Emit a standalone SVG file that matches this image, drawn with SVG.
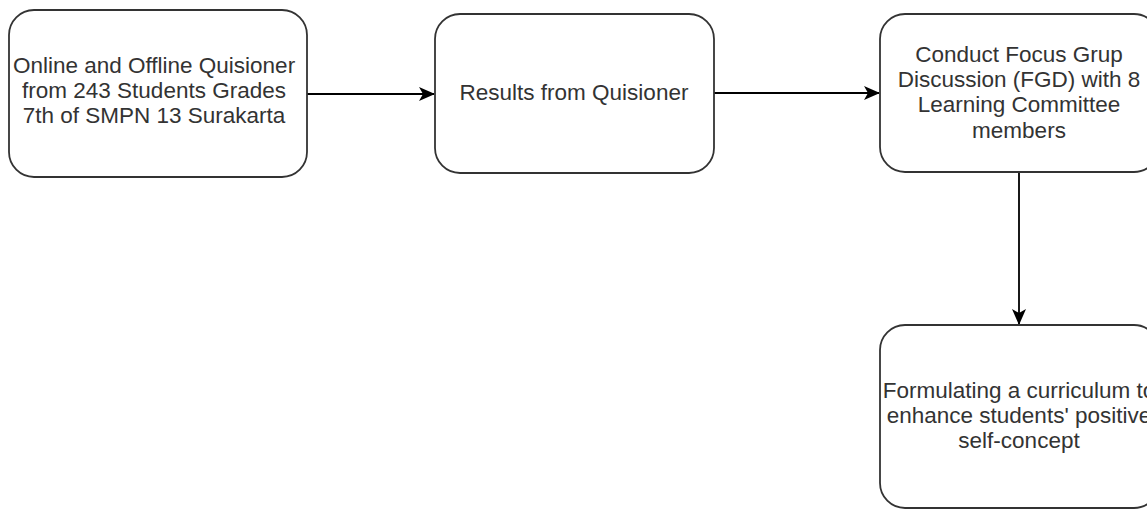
<svg xmlns="http://www.w3.org/2000/svg" width="1147" height="510" viewBox="0 0 1147 510">
  <style>
    .box { fill: #ffffff; stroke: #333333; stroke-width: 1.8; }
    .lbl { font-family: "Liberation Sans", Arial, sans-serif; font-size: 22.5px; fill: #333333; text-anchor: middle; }
    .edge { fill: none; stroke: #000000; stroke-width: 1.8; }
  </style>
  <defs>
    <marker id="arrow" viewBox="0 0 16 14" refX="15" refY="7" markerWidth="16" markerHeight="14" markerUnits="userSpaceOnUse" orient="auto">
      <path d="M0,0 L16,7 L0,14 L4,7 Z" fill="#000000"/>
    </marker>
  </defs>
  <rect width="1147" height="510" fill="#ffffff"/>

  <g id="connectors">
    <line class="edge" x1="307" y1="94" x2="434" y2="94" marker-end="url(#arrow)"/>
    <line class="edge" x1="714" y1="93" x2="879" y2="93" marker-end="url(#arrow)"/>
    <line class="edge" x1="1019" y1="173" x2="1019" y2="324" marker-end="url(#arrow)"/>
  </g>

  <g id="node-questionnaire">
    <rect class="box" x="9" y="10" width="298" height="167" rx="25" ry="25"/>
    <text class="lbl" x="154" y="73">Online and Offline Quisioner</text>
    <text class="lbl" x="154" y="98">from 243 Students Grades</text>
    <text class="lbl" x="154" y="123">7th of SMPN 13 Surakarta</text>
  </g>

  <g id="node-results">
    <rect class="box" x="435" y="14" width="279" height="159" rx="25" ry="25"/>
    <text class="lbl" x="574" y="100">Results from Quisioner</text>
  </g>

  <g id="node-fgd">
    <rect class="box" x="880" y="14" width="279" height="158" rx="25" ry="25"/>
    <text class="lbl" x="1019" y="62">Conduct Focus Grup</text>
    <text class="lbl" x="1019" y="87">Discussion (FGD) with 8</text>
    <text class="lbl" x="1019" y="112">Learning Committee</text>
    <text class="lbl" x="1019" y="138">members</text>
  </g>

  <g id="node-curriculum">
    <rect class="box" x="880" y="325" width="279" height="183" rx="25" ry="25"/>
    <text class="lbl" x="1019" y="398">Formulating a curriculum to</text>
    <text class="lbl" x="1019" y="423">enhance students' positive</text>
    <text class="lbl" x="1019" y="448">self-concept</text>
  </g>
</svg>
